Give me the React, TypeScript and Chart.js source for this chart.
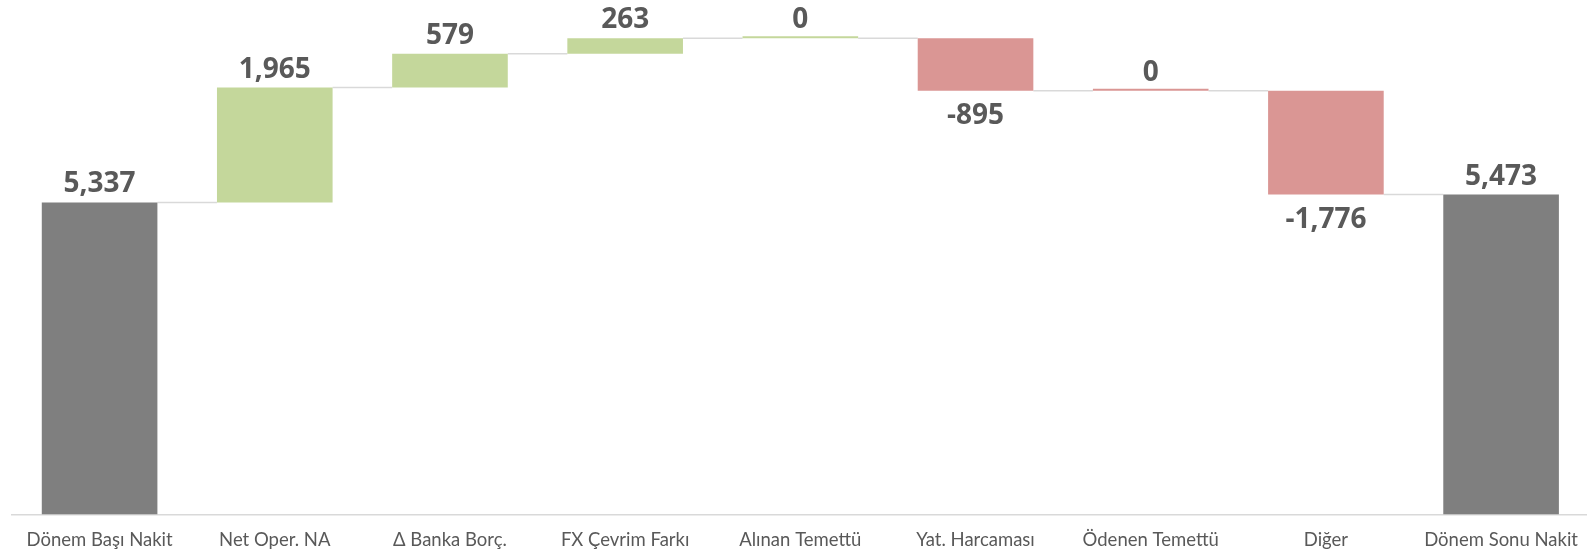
import React, { useEffect, useRef } from "react";
import { Chart, registerables } from "chart.js";

Chart.register(...registerables);

const categories = [
  "Dönem Başı Nakit",
  "Net Oper. NA",
  "Δ Banka Borç.",
  "FX Çevrim Farkı",
  "Alınan Temettü",
  "Yat. Harcaması",
  "Ödenen Temettü",
  "Diğer",
  "Dönem Sonu Nakit",
];
const values = [5337, 1965, 579, 263, 0, -895, 0, -1776, 5473];
const kinds = ["total", "in", "in", "in", "in", "out", "out", "out", "total"];
const yMax = 8800;

const COLORS: Record<string, string> = {
  total: "#7f7f7f",
  in: "#c4d79b",
  out: "#da9694",
};
const TEXT = "#595959";
const LINE = "#d9d9d9";

function buildRanges() {
  const ranges: [number, number][] = [];
  const ends: number[] = [];
  let running = 0;
  values.forEach((v, i) => {
    if (kinds[i] === "total") {
      ranges.push([0, v]);
      running = v;
    } else {
      ranges.push([running, running + v]);
      running = running + v;
    }
    ends.push(running);
  });
  return { ranges, ends };
}

export default function App() {
  const ref = useRef<HTMLCanvasElement>(null);
  useEffect(() => {
    document.body.style.margin = "0";
    document.body.style.overflow = "hidden";
    document.documentElement.style.overflow = "hidden";
    const { ranges, ends } = buildRanges();

    const waterfallPlugin = {
      id: "waterfallExtras",
      beforeDatasetsDraw(chart: any) {
        const ctx = chart.ctx;
        const meta = chart.getDatasetMeta(0);
        const y = chart.scales.y;
        ctx.save();
        ctx.strokeStyle = LINE;
        ctx.lineWidth = 1.5;
        for (let i = 0; i < meta.data.length - 1; i++) {
          const a = meta.data[i];
          const b = meta.data[i + 1];
          const py = y.getPixelForValue(ends[i]);
          ctx.beginPath();
          ctx.moveTo(a.x + a.width / 2, py);
          ctx.lineTo(b.x - b.width / 2, py);
          ctx.stroke();
        }
        ctx.restore();
      },
      afterDatasetsDraw(chart: any) {
        const ctx = chart.ctx;
        const meta = chart.getDatasetMeta(0);
        const y = chart.scales.y;
        ctx.save();
        ctx.font = "bold 28px 'Open Sans'";
        ctx.fillStyle = TEXT;
        ctx.textAlign = "center";
        ctx.textBaseline = "alphabetic";
        const asc = ctx.measureText("0").actualBoundingBoxAscent;
        meta.data.forEach((bar: any, i: number) => {
          const v = values[i];
          const label = v.toLocaleString("en-US");
          const [s, e] = ranges[i];
          const topV = Math.max(s, e);
          const botV = Math.min(s, e);
          if (v < 0) {
            const py = y.getPixelForValue(botV);
            ctx.fillText(label, bar.x, py + 12 + asc);
          } else {
            const py = y.getPixelForValue(topV);
            ctx.fillText(label, bar.x, py - 10);
          }
        });
        ctx.restore();
      },
    };

    const chart = new Chart(ref.current!, {
      type: "bar",
      data: {
        labels: categories,
        datasets: [
          {
            data: ranges as any,
            backgroundColor: kinds.map((k) => COLORS[k]),
            borderWidth: 0,
            minBarLength: 2,
            categoryPercentage: 1,
            barPercentage: 0.66,
          },
        ],
      },
      options: {
        animation: false,
        responsive: false,
        devicePixelRatio: 1,
        layout: { padding: { left: 12, right: 0, top: 0, bottom: 0 } },
        plugins: {
          legend: { display: false },
          tooltip: { enabled: false },
        },
        scales: {
          x: {
            grid: { display: false, drawTicks: false },
            border: { display: true, color: LINE, width: 1.5 },
            ticks: {
              color: TEXT,
              font: { family: "Lato", size: 18.5 },
              padding: 14,
              maxRotation: 0,
              autoSkip: false,
            },
            afterFit: (scale: any) => {
              scale.height = 38.5;
            },
          },
          y: {
            display: false,
            min: 0,
            max: yMax,
          },
        },
      },
      plugins: [waterfallPlugin],
    });
    return () => chart.destroy();
  }, []);

  return (
    <div style={{ position: "fixed", left: 0, top: 0, width: 1587, height: 553, overflow: "hidden", background: "#fff" }}>
      <canvas ref={ref} width={1592} height={553} style={{ display: "block" }} />
    </div>
  );
}
